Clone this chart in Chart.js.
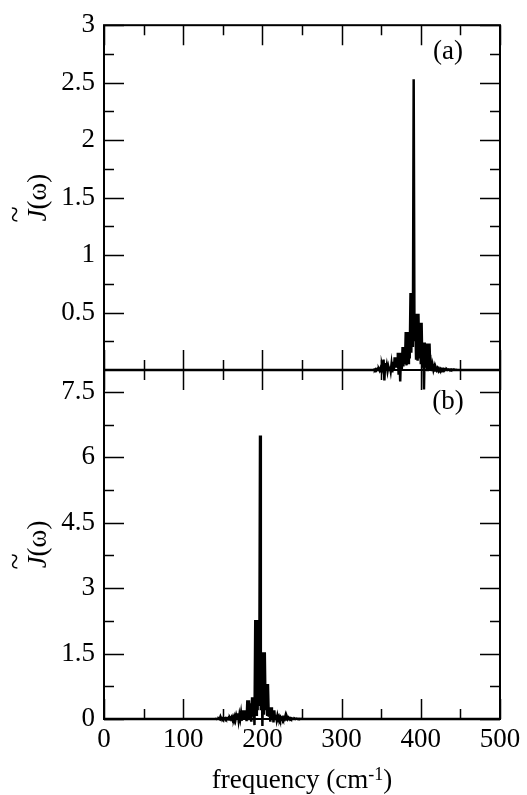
<!DOCTYPE html>
<html>
<head>
<meta charset="utf-8">
<script src="https://cdn.jsdelivr.net/npm/chart.js@4.4.0/dist/chart.umd.min.js"></script>
<style>
  html, body { margin: 0; padding: 0; background: #fff; }
  #wrap { position: relative; width: 527px; height: 795px; }
  canvas { position: absolute; left: 0; top: 0; }
</style>
</head>
<body>
<div id="wrap">
  <canvas id="panelA" width="527" height="795"></canvas>
  <canvas id="panelB" width="527" height="795"></canvas>
</div>
<script>
// panel (a): spectral density, peak near 391 cm-1
const freqA = [0,
  340, 341, 342, 343, 344, 345, 346, 347, 348, 349,
  350, 351, 352, 353, 354, 355, 356, 357, 358, 359,
  360, 361, 362, 363, 364, 365, 366, 367, 368, 369,
  370, 371, 372, 373, 374, 375, 376, 377, 378, 379,
  380, 381, 382, 383, 384, 385, 386, 387, 388, 389,
  390, 391, 392, 393, 394, 395, 396, 397, 398, 399,
  400, 401, 402, 403, 404, 405, 406, 407, 408, 409,
  410, 411, 412, 413, 414, 415, 416, 417, 418, 419,
  420, 421, 422, 423, 424, 425, 426, 427, 428, 429,
  430, 431, 432, 433, 434, 435, 436, 437, 438, 439,
  440, 441, 442, 443, 444, 445, 446,
  500];
const jA = [0,
  0, 0.004, -0.002, 0.006, -0.003, 0.008, 0, 0.01, -0.004, 0.015,
  -0.01, 0.04, 0.01, 0.09, -0.09, 0.06, 0, 0.04, -0.01, 0.03,
  0, 0.03, -0.01, 0.05, -0.02, 0.07, 0, 0.11, 0.02, 0.11,
  0.03, 0.15, -0.04, 0.15, -0.1, 0.15, 0, 0.2, 0.03, 0.2,
  0.05, 0.33, 0.04, 0.33, 0.06, 0.33, 0.1, 0.67, 0.15, 0.67,
  0.2, 2.53, 0.25, 0.49, 0.1, 0.49, 0.08, 0.49, 0.1, 0.41,
  0.05, 0.41, 0.02, 0.24, -0.17, 0.24, 0.02, 0.23, 0, 0.23,
  0.03, 0.23, 0, 0.05, -0.01, 0.04, 0, 0.025, -0.005, 0.02,
  0, 0.015, -0.004, 0.012, 0, 0.01, -0.003, 0.008, 0, 0.008,
  -0.002, 0.006, 0, 0.006, 0, 0.005, 0, 0.004, 0, 0.004,
  0, 0.003, 0, 0.002, 0, 0.002, 0,
  0];

// panel (b): spectral density, peak near 197 cm-1
const freqB = [0,
  140, 141, 142, 143, 144, 145, 146, 147, 148, 149,
  150, 151, 152, 153, 154, 155, 156, 157, 158, 159,
  160, 161, 162, 163, 164, 165, 166, 167, 168, 169,
  170, 171, 172, 173, 174, 175, 176, 177, 178, 179,
  180, 181, 182, 183, 184, 185, 186, 187, 188, 189,
  190, 191, 192, 193, 194, 195, 196, 197, 198, 199,
  200, 201, 202, 203, 204, 205, 206, 207, 208, 209,
  210, 211, 212, 213, 214, 215, 216, 217, 218, 219,
  220, 221, 222, 223, 224, 225, 226, 227, 228, 229,
  230, 231, 232, 233, 234, 235, 236, 237, 238, 239,
  240, 241, 242, 243, 244, 245, 246, 247, 248, 249, 250,
  500];
const jB = [0,
  0, 0.004, -0.002, 0.006, 0, 0.01, -0.004, 0.05, 0, 0.02,
  -0.005, 0.015, 0, 0.02, -0.005, 0.015, 0, 0.025, -0.01, 0.03,
  0, 0.04, -0.01, 0.05, 0, 0.06, -0.02, 0.08, 0.01, 0.13,
  -0.03, 0.1, 0, 0.13, -0.04, 0.2, 0, 0.2, 0.02, 0.2,
  -0.05, 0.43, 0, 0.43, 0.05, 0.36, -0.06, 0.5, 0.05, 0.5,
  -0.14, 2.27, 0.1, 2.27, 0.2, 2.27, 0.3, 6.5, 0.2, 1.53,
  -0.16, 1.53, 0.1, 1.53, 0.2, 0.8, 0.1, 0.8, 0.05, 0.27,
  -0.06, 0.27, 0, 0.2, -0.08, 0.2, 0, 0.1, -0.02, 0.08,
  0, 0.05, -0.01, 0.04, 0, 0.03, -0.01, 0.03, 0, 0.07,
  -0.01, 0.05, 0, 0.03, 0, 0.02, 0, 0.015, 0, 0.01,
  0, 0.01, 0, 0.008, 0, 0.006, 0, 0.004, 0, 0.003, 0,
  0];

// ticks
const xMajor = [0, 100, 200, 300, 400, 500];
const xMinor = [50, 150, 250, 350, 450];
const yMajorA = [0.5, 1, 1.5, 2, 2.5, 3];
const yMinorA = [0.25, 0.75, 1.25, 1.75, 2.25, 2.75];
const yMajorB = [0, 1.5, 3, 4.5, 6, 7.5];
const yMinorB = [0.75, 2.25, 3.75, 5.25, 6.75];

const SERIF = '"Liberation Serif", "Times New Roman", serif';

// frame, inside ticks, panel tag and axis titles
const framePlugin = {
  id: 'framePlugin',
  afterDatasetsDraw(chart, args, o) {
    const { ctx, chartArea: a, scales: { x, y } } = chart;
    ctx.save();
    ctx.strokeStyle = '#000';
    ctx.lineWidth = 1.5;
    ctx.beginPath();
    const xt = (v, len) => {
      const p = Math.round(x.getPixelForValue(v)) + 0.5;
      ctx.moveTo(p, a.bottom); ctx.lineTo(p, a.bottom - len);
      ctx.moveTo(p, a.top); ctx.lineTo(p, a.top + len);
    };
    const yt = (v, len) => {
      const p = Math.round(y.getPixelForValue(v)) + 0.5;
      ctx.moveTo(a.left, p); ctx.lineTo(a.left + len, p);
      ctx.moveTo(a.right, p); ctx.lineTo(a.right - len, p);
    };
    xMajor.forEach(v => xt(v, 20));
    xMinor.forEach(v => xt(v, 10));
    o.yMajor.forEach(v => yt(v, 20));
    o.yMinor.forEach(v => yt(v, 10));
    ctx.stroke();
    ctx.lineWidth = 2;
    ctx.strokeRect(a.left, a.top, a.right - a.left, a.bottom - a.top);

    ctx.fillStyle = '#000';
    // panel tag
    ctx.font = '27px ' + SERIF;
    ctx.textAlign = 'center';
    ctx.textBaseline = 'middle';
    ctx.fillText(o.tag, 448, a.top + o.tagDy);

    // y title  J~(w)
    const cy = (a.top + a.bottom) / 2;
    ctx.translate(46, cy);
    ctx.rotate(-Math.PI / 2);
    ctx.textAlign = 'left';
    ctx.textBaseline = 'alphabetic';
    ctx.font = 'italic 27px ' + SERIF;
    const wJ = ctx.measureText('J').width;
    ctx.font = '27px ' + SERIF;
    const wR = ctx.measureText('(\u03c9)').width;
    const x0 = -(wJ + wR) / 2;
    ctx.font = 'italic 27px ' + SERIF;
    ctx.fillText('J', x0, 0);
    ctx.font = '27px ' + SERIF;
    ctx.fillText('(\u03c9)', x0 + wJ, 0);
    ctx.textAlign = 'center';
    ctx.textBaseline = 'middle';
    ctx.font = '30px ' + SERIF;
    ctx.fillText('~', x0 + wJ / 2 + 1, -29);
    ctx.setTransform(1, 0, 0, 1, 0, 0);

    // x title
    if (o.xTitle) {
      ctx.textBaseline = 'alphabetic';
      ctx.textAlign = 'left';
      ctx.font = '27px ' + SERIF;
      const t1 = 'frequency (cm', t3 = ')';
      const w1 = ctx.measureText(t1).width, w3 = ctx.measureText(t3).width;
      ctx.font = '18px ' + SERIF;
      const w2 = ctx.measureText('-1').width;
      const sx = (a.left + a.right) / 2 - (w1 + w2 + w3) / 2;
      ctx.font = '27px ' + SERIF;
      ctx.fillText(t1, sx, 788);
      ctx.fillText(t3, sx + w1 + w2, 788);
      ctx.font = '18px ' + SERIF;
      ctx.fillText('-1', sx + w1, 780);
    }
    ctx.restore();
  }
};

function makePanel(id, freq, vals, yMax, yMajor, yMinor, opts) {
  const pts = freq.map((f, i) => ({ x: f, y: vals[i] }));
  return new Chart(document.getElementById(id), {
    type: 'line',
    data: {
      datasets: [{
        data: pts,
        borderColor: '#000',
        borderWidth: 2.5,
        pointRadius: 0,
        tension: 0,
        fill: false,
        clip: false
      }]
    },
    options: {
      responsive: false,
      animation: false,
      devicePixelRatio: 1,
      layout: { padding: { top: opts.top, right: 27, left: 0, bottom: 0 } },
      plugins: {
        legend: { display: false },
        tooltip: { enabled: false },
        framePlugin: { yMajor, yMinor, tag: opts.tag, tagDy: opts.tagDy, xTitle: opts.xTitle }
      },
      scales: {
        x: {
          type: 'linear',
          min: 0, max: 500,
          grid: { display: false, drawTicks: false },
          border: { display: false },
          afterFit: s => { s.height = opts.xHeight; },
          afterBuildTicks: s => { s.ticks = xMajor.map(v => ({ value: v })); },
          ticks: {
            display: opts.xLabels,
            padding: 5,
            color: '#000',
            font: { family: SERIF, size: 27 },
            maxRotation: 0,
            callback: v => String(v)
          }
        },
        y: {
          min: 0, max: yMax,
          grid: { display: false, drawTicks: false },
          border: { display: false },
          afterFit: s => { s.width = 104; },
          afterBuildTicks: s => { s.ticks = yMajor.map(v => ({ value: v })); },
          ticks: {
            padding: 9,
            color: '#000',
            font: { family: SERIF, size: 27 },
            callback: v => String(v)
          }
        }
      }
    },
    plugins: [framePlugin]
  });
}

makePanel('panelA', freqA, jA, 3, yMajorA, yMinorA,
  { top: 21, xHeight: 795 - 370, xLabels: false, tag: '(a)', tagDy: 27, xTitle: false });
makePanel('panelB', freqB, jB, 8, yMajorB, yMinorB,
  { top: 370, xHeight: 795 - 719, xLabels: true, tag: '(b)', tagDy: 32, xTitle: true });
</script>
</body>
</html>
